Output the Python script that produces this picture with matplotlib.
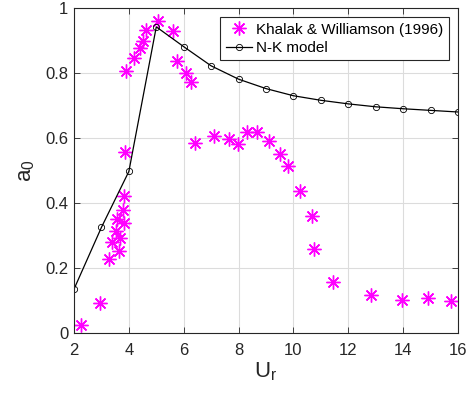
import matplotlib
matplotlib.use("Agg")
import matplotlib.pyplot as plt

plt.rcParams['font.family'] = ['Liberation Sans', 'DejaVu Sans']
plt.rcParams['mathtext.fontset'] = 'custom'
plt.rcParams['mathtext.rm'] = 'Liberation Sans'

# Experimental data: Khalak & Williamson (1996)
exp_ur = [2.26, 2.94, 3.26, 3.40, 3.52, 3.65, 3.68, 3.58, 3.81, 3.78, 3.82, 3.86,
          3.90, 4.20, 4.42, 4.50, 4.61, 5.05, 5.61, 5.77, 6.07, 6.25, 6.41, 7.12,
          7.66, 7.97, 8.30, 8.66, 9.10, 9.51, 9.79, 10.24, 10.68, 10.74, 11.45,
          12.84, 13.97, 14.91, 15.73]
exp_a0 = [0.025, 0.091, 0.229, 0.280, 0.313, 0.252, 0.292, 0.351, 0.337, 0.377, 0.421, 0.557,
          0.807, 0.845, 0.878, 0.899, 0.932, 0.960, 0.930, 0.838, 0.799, 0.773, 0.584, 0.606,
          0.596, 0.582, 0.618, 0.618, 0.592, 0.551, 0.514, 0.438, 0.360, 0.259, 0.157,
          0.116, 0.102, 0.107, 0.097]

# N-K model prediction
model_ur = [2, 3, 4, 5, 6, 7, 8, 9, 10, 11, 12, 13, 14, 15, 16]
model_a0 = [0.135, 0.325, 0.497, 0.942, 0.881, 0.822, 0.781, 0.752, 0.730, 0.716,
            0.705, 0.696, 0.690, 0.685, 0.680]

fig = plt.figure(figsize=(4.76, 3.94), dpi=100)
ax = fig.add_axes([74/476, 61/394, 384/476, 325/394])

ax.plot(exp_ur, exp_a0, linestyle='none', marker=(8, 2, 0), markersize=10,
        markeredgewidth=1.0, color='#ff00ff', label='Khalak & Williamson (1996)')
ax.plot(model_ur, model_a0, color='black', linewidth=0.9, marker='o', markersize=4.5,
        markerfacecolor='none', markeredgewidth=0.6, label='N-K model')

ax.set_xlim(2, 16)
ax.set_ylim(0, 1)
ax.set_xticks([2, 4, 6, 8, 10, 12, 14, 16])
ax.set_yticks([0, 0.2, 0.4, 0.6, 0.8, 1.0])
ax.set_yticklabels(['0', '0.2', '0.4', '0.6', '0.8', '1'])

axis_col = '#262626'
for s in ax.spines.values():
    s.set_color(axis_col)
    s.set_linewidth(0.8)
ax.tick_params(direction='in', length=4, width=0.6, colors=axis_col, labelsize=12,
               top=True, right=True)
ax.tick_params(axis='x', pad=7)
ax.tick_params(axis='y', pad=4)
for lab in ax.get_xticklabels() + ax.get_yticklabels():
    lab.set_color(axis_col)
ax.grid(True, color='#dcdcdc', linewidth=0.8)
ax.set_axisbelow(True)

ax.set_xlabel('U$_\\mathregular{r}$', fontsize=16, color=axis_col, labelpad=2)
ax.set_ylabel('a$_\\mathregular{0}$', fontsize=16, color=axis_col, labelpad=6)

leg = ax.legend(loc='upper right', fontsize=11, frameon=True, fancybox=False,
                edgecolor=axis_col, framealpha=1, borderpad=0.35, handlelength=1.7,
                handletextpad=0.3, labelspacing=0.3, borderaxespad=0.6)
leg.get_frame().set_linewidth(0.8)

fig.savefig('out.png', dpi=100)
